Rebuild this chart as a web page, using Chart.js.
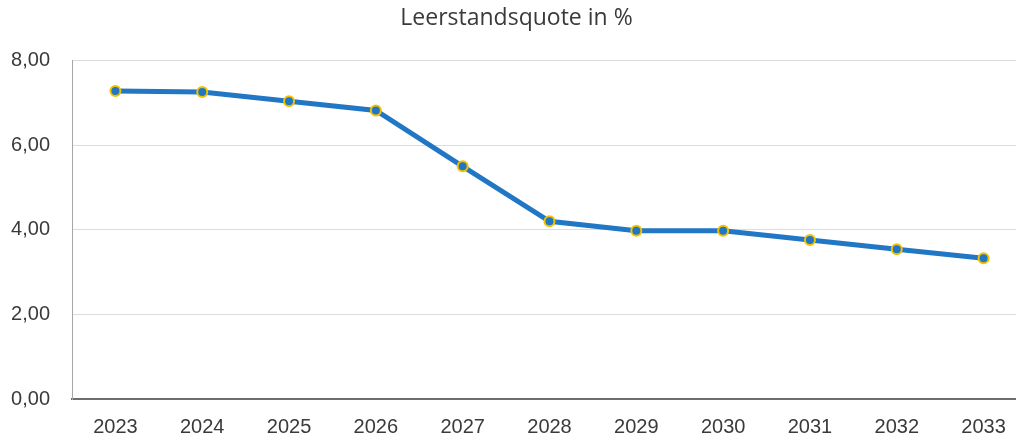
<!DOCTYPE html>
<html>
<head>
<meta charset="utf-8">
<script src="https://cdn.jsdelivr.net/npm/chart.js@4/dist/chart.umd.min.js"></script>
<style>
  html, body { margin: 0; padding: 0; background: #fff; overflow: hidden; }
  #wrap { position: relative; width: 1042px; height: 441px; }
</style>
</head>
<body>
<div id="wrap"><canvas id="leerChart"></canvas></div>
<script>
// Leerstandsquote
const years = ['2023', '2024', '2025', '2026', '2027', '2028', '2029', '2030', '2031', '2032', '2033'];
const quote = [7.28, 7.26, 7.04, 6.82, 5.50, 4.20, 3.98, 3.98, 3.76, 3.54, 3.33];
const yTicks = [0, 2, 4, 6, 8];

const fontFam = "'Liberation Sans', 'Open Sans', sans-serif";
const textColor = '#3a3a3a';

let ctx = document.getElementById('leerChart').getContext('2d');

new Chart(ctx, {
    type: 'line',
    data: {
        labels: years,
        datasets: [{
            label: 'Leerstandsquote in %',
            data: quote,
            borderColor: '#2177c4',
            borderWidth: 5,
            pointRadius: 5,
            pointBorderWidth: 2,
            pointBackgroundColor: '#2177c4',
            pointBorderColor: '#f2c200',
            tension: 0
        }]
    },
    options: {
        responsive: true,
        maintainAspectRatio: false,
        animation: false,
        layout: {
            padding: { left: 6, right: 15, top: 3, bottom: 2 }
        },
        plugins: {
            legend: { display: false },
            tooltip: { enabled: false },
            title: {
                display: true,
                text: 'Leerstandsquote in %',
                color: textColor,
                font: { family: "'Open Sans', 'Liberation Sans', sans-serif", size: 23, weight: 'normal' },
                padding: { top: 2, bottom: 28 }
            }
        },
        scales: {
            x: {
                type: 'category',
                offset: true,
                grid: { display: false, drawTicks: false },
                border: { display: true, color: '#6e6e6e', width: 2 },
                afterFit: axis => { axis.height = 40; },
                ticks: {
                    color: textColor,
                    font: { family: fontFam, size: 20 },
                    padding: 16,
                    maxRotation: 0
                }
            },
            y: {
                min: 0,
                max: 8,
                afterBuildTicks: axis => {
                    axis.ticks = yTicks.map(v => ({ value: v }));
                },
                afterFit: axis => { axis.width = 66; },
                grid: { color: '#dcdcdc', lineWidth: 1, drawTicks: false },
                border: { display: true, color: '#a6a6a6', width: 1 },
                ticks: {
                    color: textColor,
                    font: { family: fontFam, size: 20 },
                    padding: 22,
                    callback: v => v.toFixed(2).replace('.', ',')
                }
            }
        }
    }
});
</script>
</body>
</html>
